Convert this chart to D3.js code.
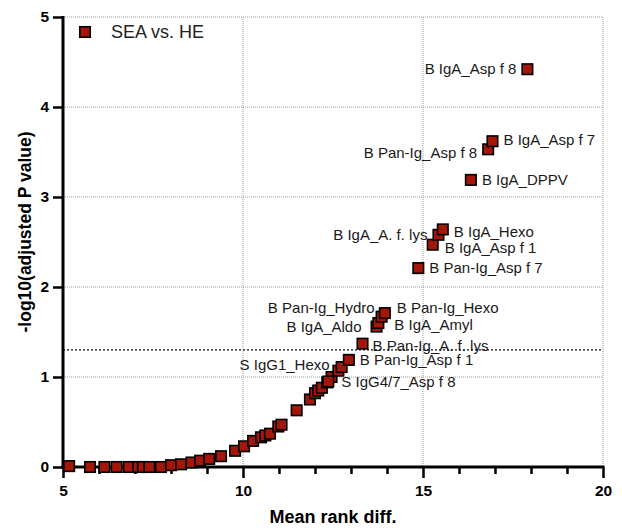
<!DOCTYPE html>
<html>
<head>
<meta charset="utf-8">
<script src="https://cdn.jsdelivr.net/npm/d3@7"></script>
<style>
  body { margin: 0; background: #fff; }
  svg { font-family: "Liberation Sans", Arial, sans-serif; }
</style>
</head>
<body>
<svg id="chart" width="622" height="532"></svg>
<script>
// unlabeled points along the curve (mean rank diff., -log10 adj. p)
var curveX = [5.17, 5.75, 6.15, 6.49, 6.83, 7.09, 7.22, 7.40, 7.72, 8.0, 8.28, 8.57, 8.81, 9.06, 9.39, 9.78,
  10.03, 10.28, 10.5, 10.62, 10.75, 10.98, 11.07, 11.49, 11.86, 12.0, 12.09, 12.19, 12.34, 12.46, 12.65];
var curveY = [0.01, 0.0, 0.0, 0.0, 0.0, 0.0, 0.0, 0.0, 0.0, 0.02, 0.03, 0.05, 0.07, 0.09, 0.12, 0.18,
  0.23, 0.29, 0.33, 0.35, 0.37, 0.45, 0.47, 0.63, 0.75, 0.82, 0.85, 0.88, 0.94, 1.0, 1.07];

// labeled points
var labelNames = ["S IgG4/7_Asp f 8", "S IgG1_Hexo", "B Pan-Ig_Asp f 1", "B Pan-Ig_A. f. lys",
  "B IgA_Aldo", "B IgA_Amyl", "B Pan-Ig_Hydro", "B Pan-Ig_Hexo", "B Pan-Ig_Asp f 7", "B IgA_Asp f 1",
  "B IgA_A. f. lys", "B IgA_Hexo", "B IgA_DPPV", "B Pan-Ig_Asp f 8", "B IgA_Asp f 7", "B IgA_Asp f 8"];
var labelX = [12.37, 12.74, 12.94, 13.32, 13.71, 13.76, 13.85, 13.94, 14.87, 15.27, 15.43, 15.55, 16.33, 16.81, 16.93, 17.9];
var labelY = [0.95, 1.11, 1.19, 1.37, 1.56, 1.60, 1.67, 1.71, 2.21, 2.47, 2.58, 2.64, 3.19, 3.53, 3.62, 4.42];
var labelSide = ["right", "left", "right", "right", "left", "right", "left", "right", "right", "right",
  "left", "right", "right", "left", "right", "left"];

var xTicks = [5, 10, 15, 20];
var yTicks = [0, 1, 2, 3, 4, 5];
var threshold = 1.301;
var seriesName = "SEA vs. HE";

// small pixel nudges for labels, [dx, dy]
var nudge = {
  "S IgG4/7_Asp f 8": [13, 0], "S IgG1_Hexo": [-12, -2], "B Pan-Ig_A. f. lys": [10, 2],
  "B IgA_Aldo": [-15, 0], "B IgA_Amyl": [16, 2], "B Pan-Ig_Hydro": [-7, -9], "B Pan-Ig_Hexo": [12, -5],
  "B IgA_Asp f 1": [12, 3], "B IgA_Hexo": [11, 2], "B Pan-Ig_Asp f 8": [-11, 3], "B IgA_Asp f 7": [11, -1],
  "B IgA_Asp f 8": [-11, 0]
};

var svg = d3.select("#chart");
var pLeft = 63, pRight = 603, pTop = 17, pBottom = 467;

var x = d3.scaleLinear().domain([5, 20]).range([pLeft, pRight]);
var y = d3.scaleLinear().domain([0, 5]).range([pBottom, pTop]);

// grid
var grid = svg.append("g");
grid.selectAll(".gx").data([10, 15, 20]).enter().append("line")
  .attr("x1", d => x(d)).attr("x2", d => x(d))
  .attr("y1", pTop).attr("y2", pBottom)
  .attr("stroke", "#9a9a9a").attr("stroke-width", 1).attr("stroke-dasharray", "1,1");
grid.selectAll(".gy").data([1, 2, 3, 4, 5]).enter().append("line")
  .attr("x1", pLeft).attr("x2", pRight)
  .attr("y1", d => y(d)).attr("y2", d => y(d))
  .attr("stroke", "#9a9a9a").attr("stroke-width", 1).attr("stroke-dasharray", "1,1");

// significance line
svg.append("line")
  .attr("x1", pLeft).attr("x2", pRight)
  .attr("y1", y(threshold)).attr("y2", y(threshold))
  .attr("stroke", "#111").attr("stroke-width", 1.3).attr("stroke-dasharray", "2,2");

// axes
var xAxis = svg.append("g").attr("transform", "translate(0," + pBottom + ")")
  .call(d3.axisBottom(x).tickValues(d3.range(5, 21, 1)).tickSize(7).tickFormat(""));
xAxis.selectAll(".tick line")
  .attr("y2", d => xTicks.indexOf(d) >= 0 ? 11 : 7);
var xLab = svg.append("g").attr("transform", "translate(0," + pBottom + ")")
  .call(d3.axisBottom(x).tickValues(xTicks).tickSize(0).tickPadding(18).tickFormat(d3.format("d")));
xLab.select(".domain").remove();

var yAxis = svg.append("g").attr("transform", "translate(" + pLeft + ",0)")
  .call(d3.axisLeft(y).tickValues(yTicks).tickSize(10).tickPadding(4).tickFormat(d3.format("d")));

[xAxis, yAxis].forEach(function (a) {
  a.select(".domain").attr("stroke", "#000").attr("stroke-width", 3);
  a.selectAll(".tick line").attr("stroke", "#000").attr("stroke-width", 2.5);
});
xAxis.select(".domain").attr("d", "M" + (pLeft - 1.5) + ",0H" + (pRight + 1.5));
yAxis.select(".domain").attr("d", "M0," + (pTop - 1) + "V" + (pBottom + 1.5));
[xLab, yAxis].forEach(function (a) {
  a.selectAll(".tick text").attr("fill", "#000").style("font-size", "15.5px").style("font-weight", "bold")
    .style("font-family", "'Liberation Sans', Arial, sans-serif");
});

// axis titles
svg.append("text").attr("x", (pLeft + pRight) / 2).attr("y", 523)
  .attr("text-anchor", "middle").style("font-size", "18px").style("font-weight", "bold")
  .text("Mean rank diff.");
svg.append("text").attr("transform", "translate(31,232) rotate(-90)")
  .attr("text-anchor", "middle").style("font-size", "17.5px").style("font-weight", "bold")
  .text("-log10(adjusted P value)");

// points
var pts = curveX.map((d, i) => ({x: d, y: curveY[i]}));
labelX.forEach((d, i) => pts.push({x: d, y: labelY[i], name: labelNames[i], side: labelSide[i]}));

var sz = 10.5;
svg.append("g").selectAll("rect").data(pts).enter().append("rect")
  .attr("x", d => x(d.x) - sz / 2).attr("y", d => y(d.y) - sz / 2)
  .attr("width", sz).attr("height", sz)
  .attr("fill", "#a3170a").attr("stroke", "#000").attr("stroke-width", 1.6);

svg.append("g").selectAll("text").data(pts.filter(d => d.name)).enter().append("text")
  .attr("x", d => x(d.x) + (nudge[d.name] ? nudge[d.name][0] : (d.side == "left" ? -11 : 11)))
  .attr("y", d => y(d.y) + (nudge[d.name] ? nudge[d.name][1] : 0))
  .attr("dy", "0.35em")
  .attr("text-anchor", d => d.side == "left" ? "end" : "start")
  .attr("fill", "#1a1a1a").style("font-size", "15px")
  .text(d => d.name);

// legend
svg.append("rect").attr("x", 85 - sz / 2).attr("y", 32 - sz / 2).attr("width", sz).attr("height", sz)
  .attr("fill", "#a3170a").attr("stroke", "#000").attr("stroke-width", 1.6);
svg.append("text").attr("x", 111).attr("y", 32).attr("dy", "0.35em")
  .attr("fill", "#222").style("font-size", "18px").text(seriesName);
</script>
</body>
</html>
